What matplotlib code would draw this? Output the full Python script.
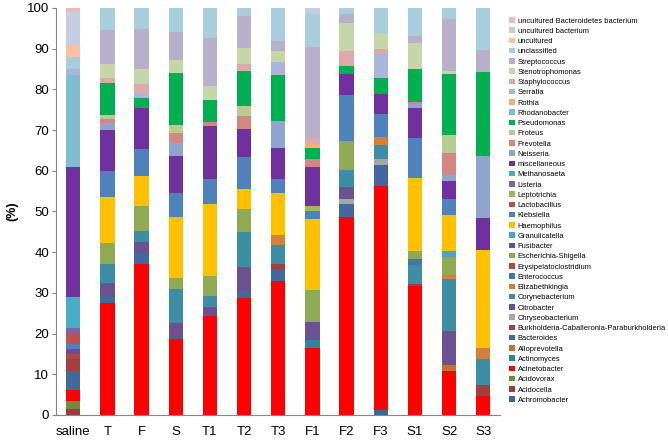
import matplotlib
matplotlib.use("Agg")
import matplotlib.pyplot as plt
import numpy as np
from matplotlib.patches import Patch

plt.rcParams['font.family'] = ['Liberation Sans', 'DejaVu Sans']

samples = ['saline', 'T', 'F', 'S', 'T1', 'T2', 'T3', 'F1', 'F2', 'F3', 'S1', 'S2', 'S3']

# stacking order, bottom first
taxa = ['Achromobacter', 'Acidocella', 'Acidovorax', 'Acinetobacter', 'Actinomyces',
        'Alloprevotella', 'Bacteroides', 'Burkholderia-Caballeronia-Paraburkholderia',
        'Chryseobacterium', 'Citrobacter', 'Corynebacterium', 'Elizabethkingia',
        'Enterococcus', 'Erysipelatoclostridium', 'Escherichia-Shigella', 'Fusibacter',
        'Granulicatella', 'Haemophilus', 'Klebsiella', 'Lactobacillus', 'Leptotrichia',
        'Listeria', 'Methanosaeta', 'miscellaneous', 'Neisseria', 'Prevotella', 'Proteus',
        'Pseudomonas', 'Rhodanobacter', 'Rothia', 'Serratia', 'Staphylococcus',
        'Stenotrophomonas', 'Streptococcus', 'unclassified', 'uncultured',
        'uncultured bacterium', 'uncultured Bacteroidetes bacterium']

colors = ['#3E6699', '#9B3B3A', '#6F8D3A', '#FF0000', '#31849B',
          '#C47133', '#4169A0', '#A33F3E',
          '#A6A6A6', '#6B5191', '#3D8DA5', '#D5803A',
          '#4674B2', '#B14744', '#8EAA52', '#704C95',
          '#48A6C0', '#FFC000', '#4F81BD', '#C0504D', '#9BBB59',
          '#8064A2', '#4BACC6', '#7030A0', '#8EA5CF', '#D38684', '#B5CD8E',
          '#00B050', '#80BCD1', '#F9AC7D', '#A9B6DB', '#DDA9A9',
          '#C5D7A9', '#B8AFCA', '#A8CEDD', '#FAC0A6',
          '#C4CDE3', '#E6BCBB']

BURK = 'Burkholderia-Caballeronia-Paraburkholderia'

saline = {'Acidocella': 1.5, 'Acidovorax': 2.0, 'Acinetobacter': 2.7, 'Bacteroides': 4.5,
          BURK: 3.1, 'Erysipelatoclostridium': 1.2, 'Fusibacter': 1.1, 'Klebsiella': 1.4,
          'Lactobacillus': 2.7, 'Listeria': 1.2, 'Methanosaeta': 7.5, 'miscellaneous': 32.1,
          'Rhodanobacter': 22.5, 'Serratia': 1.4, 'unclassified': 3.0, 'uncultured': 3.0,
          'uncultured bacterium': 8.0, 'uncultured Bacteroidetes bacterium': 1.1}
T = {'Acinetobacter': 27.6, 'Bacteroides': 1.5, 'Citrobacter': 3.4, 'Corynebacterium': 4.5,
     'Escherichia-Shigella': 5.3, 'Haemophilus': 11.3, 'Klebsiella': 6.4, 'miscellaneous': 9.9,
     'Neisseria': 1.8, 'Prevotella': 1.1, 'Proteus': 0.9, 'Pseudomonas': 7.8,
     'Staphylococcus': 1.2, 'Stenotrophomonas': 3.5, 'Streptococcus': 8.4, 'unclassified': 5.4}
F = {'Acinetobacter': 37.1, 'Bacteroides': 2.6, 'Citrobacter': 2.9, 'Corynebacterium': 2.6,
     'Escherichia-Shigella': 6.2, 'Haemophilus': 7.4, 'Klebsiella': 6.5, 'miscellaneous': 10.0,
     'Pseudomonas': 2.5, 'Serratia': 1.2, 'Staphylococcus': 2.3, 'Stenotrophomonas': 3.7,
     'Streptococcus': 9.8, 'unclassified': 5.2}
S = {'Acinetobacter': 18.7, 'Citrobacter': 3.8, 'Corynebacterium': 8.4, 'Escherichia-Shigella': 2.7,
     'Haemophilus': 15.0, 'Klebsiella': 5.9, 'miscellaneous': 9.0, 'Neisseria': 3.3,
     'Prevotella': 2.4, 'Proteus': 2.1, 'Pseudomonas': 12.8, 'Stenotrophomonas': 3.1,
     'Streptococcus': 7.0, 'unclassified': 5.8}
T1 = {'Acinetobacter': 24.4, 'Citrobacter': 2.2, 'Corynebacterium': 2.7, 'Escherichia-Shigella': 4.9,
      'Haemophilus': 17.6, 'Klebsiella': 6.2, 'miscellaneous': 13.0, 'Prevotella': 1.0,
      'Pseudomonas': 5.4, 'Stenotrophomonas': 3.5, 'Streptococcus': 11.6, 'unclassified': 7.5}
T2 = {'Acinetobacter': 28.8, 'Bacteroides': 1.7, 'Citrobacter': 5.9, 'Corynebacterium': 8.6,
      'Escherichia-Shigella': 5.6, 'Haemophilus': 4.9, 'Klebsiella': 7.8, 'miscellaneous': 7.0,
      'Prevotella': 3.2, 'Proteus': 2.4, 'Pseudomonas': 8.7, 'Staphylococcus': 1.6,
      'Stenotrophomonas': 3.9, 'Streptococcus': 7.9, 'unclassified': 2.0}
T3 = {'Acinetobacter': 32.8, 'Bacteroides': 3.0, BURK: 1.2, 'Corynebacterium': 4.8,
      'Elizabethkingia': 2.3, 'Haemophilus': 10.5, 'Klebsiella': 3.3, 'miscellaneous': 7.6,
      'Neisseria': 6.6, 'Pseudomonas': 11.4, 'Serratia': 3.3, 'Stenotrophomonas': 2.5,
      'Streptococcus': 2.6, 'unclassified': 8.1}
F1 = {'Acinetobacter': 16.5, 'Actinomyces': 1.9, 'Citrobacter': 4.4, 'Escherichia-Shigella': 7.9,
      'Haemophilus': 17.5, 'Klebsiella': 1.9, 'Leptotrichia': 1.3, 'miscellaneous': 9.6,
      'Prevotella': 2.0, 'Pseudomonas': 2.5, 'Rothia': 1.0, 'Staphylococcus': 1.6,
      'Streptococcus': 22.4, 'unclassified': 8.0, 'uncultured bacterium': 1.5}
F2 = {'Acinetobacter': 48.6, 'Bacteroides': 3.2, 'Chryseobacterium': 1.2, 'Citrobacter': 2.9,
      'Corynebacterium': 4.3, 'Escherichia-Shigella': 7.0, 'Klebsiella': 11.4, 'miscellaneous': 5.2,
      'Pseudomonas': 2.0, 'Staphylococcus': 3.5, 'Stenotrophomonas': 7.1, 'Streptococcus': 2.1,
      'unclassified': 1.5}
F3 = {'Achromobacter': 1.1, 'Acinetobacter': 55.2, 'Bacteroides': 5.1, 'Chryseobacterium': 1.4,
      'Corynebacterium': 3.4, 'Elizabethkingia': 2.0, 'Klebsiella': 5.7, 'miscellaneous': 5.0,
      'Pseudomonas': 3.8, 'Serratia': 6.0, 'Staphylococcus': 1.1, 'Stenotrophomonas': 4.0,
      'unclassified': 6.2}
S1 = {'Acinetobacter': 31.7, BURK: 0.4, 'Corynebacterium': 4.8, 'Enterococcus': 1.4,
      'Escherichia-Shigella': 2.0, 'Haemophilus': 17.8, 'Klebsiella': 10.0, 'miscellaneous': 7.2,
      'Neisseria': 1.1, 'Prevotella': 0.6, 'Pseudomonas': 7.9, 'Stenotrophomonas': 6.6,
      'Streptococcus': 1.5, 'unclassified': 7.0}
S2 = {'Acinetobacter': 10.9, 'Alloprevotella': 1.4, 'Citrobacter': 8.3, 'Corynebacterium': 12.7,
      'Elizabethkingia': 1.0, 'Escherichia-Shigella': 4.4, 'Granulicatella': 1.6, 'Haemophilus': 8.7,
      'Klebsiella': 4.1, 'miscellaneous': 4.4, 'Neisseria': 1.5, 'Prevotella': 5.3, 'Proteus': 4.5,
      'Pseudomonas': 14.9, 'Stenotrophomonas': 0.7, 'Streptococcus': 12.9, 'unclassified': 2.7}
S3 = {'Acinetobacter': 4.7, BURK: 2.7, 'Corynebacterium': 6.4, 'Elizabethkingia': 2.7,
      'Haemophilus': 24.0, 'miscellaneous': 8.0, 'Neisseria': 15.0, 'Pseudomonas': 20.7,
      'Streptococcus': 5.5, 'unclassified': 10.3}

columns = [saline, T, F, S, T1, T2, T3, F1, F2, F3, S1, S2, S3]
data = np.array([[col.get(t, 0.0) for col in columns] for t in taxa])

fig = plt.figure(figsize=(6.68, 4.40), dpi=100)
ax = fig.add_axes([0.084, 0.057, 0.665, 0.925])

x = np.arange(len(samples))
bottom = np.zeros(len(samples))
for i, t in enumerate(taxa):
    ax.bar(x, data[i], 0.42, bottom=bottom, color=colors[i], linewidth=0)
    bottom += data[i]

ax.set_xlim(-0.5, len(samples) - 0.5)
ax.set_ylim(0, 100)
ax.set_yticks(np.arange(0, 101, 10))
ax.set_xticks(x)
ax.set_xticklabels(samples, fontsize=9.5)
ax.tick_params(axis='y', labelsize=9.5, length=3, color='#868686', pad=2)
ax.tick_params(axis='x', length=0, pad=8)
for s in ['top', 'right']:
    ax.spines[s].set_visible(False)
for s in ['left', 'bottom']:
    ax.spines[s].set_color('#868686')
    ax.spines[s].set_linewidth(0.8)
ax.set_ylabel('(%)', fontsize=9, fontweight='bold', labelpad=6)

handles = [Patch(facecolor=colors[i], label=taxa[i]) for i in range(len(taxa))][::-1]
fig.legend(handles=handles, loc='upper left', bbox_to_anchor=(0.762, 0.961),
           frameon=False, fontsize=5.4, handlelength=0.75, handleheight=0.75,
           handletextpad=0.4, labelspacing=0.385, borderaxespad=0, borderpad=0)

fig.savefig('out.png', dpi=100)
